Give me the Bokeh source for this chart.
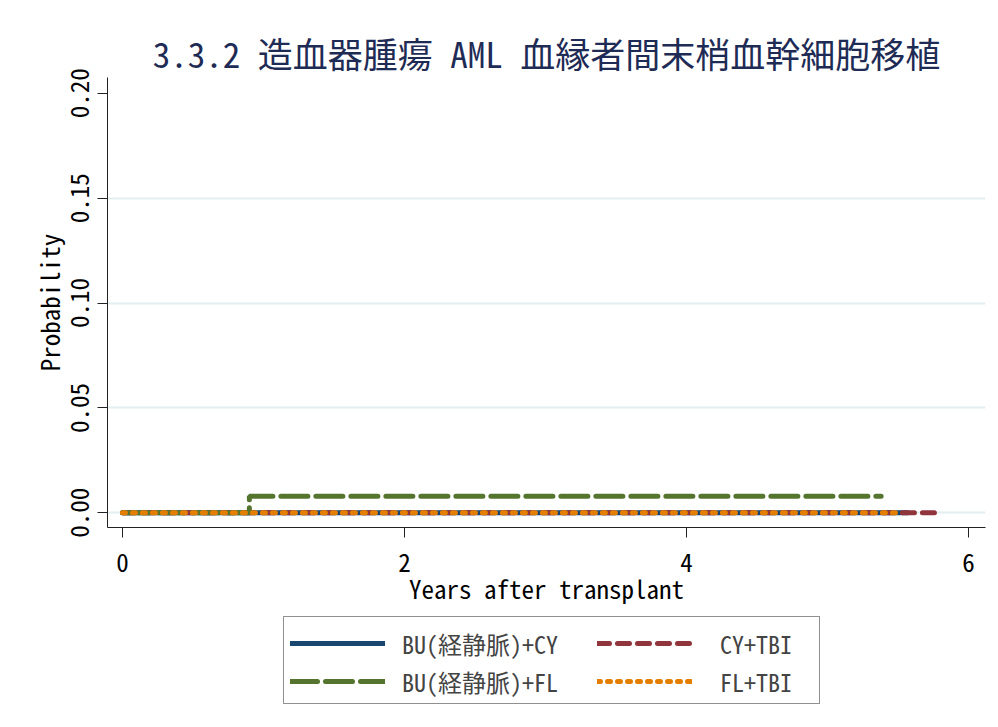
from bokeh.plotting import figure
from bokeh.layouts import column
from bokeh.models import Legend, LegendItem, FixedTicker, Range1d
from bokeh.embed import file_html
from bokeh.resources import INLINE

# Data (cumulative incidence)
blue_x = [0.0, 5.57]
blue_y = [0.0, 0.0]
red_x = [0.0, 5.77]
red_y = [0.0, 0.0]
green_x = [0.0, 0.90, 5.38]
green_y = [0.0, 0.0079, 0.0079]
orange_x = [0.0, 5.50]
orange_y = [0.0, 0.0]

labels = ["BU(経静脈)+CY", "BU(経静脈)+FL", "CY+TBI", "FL+TBI"]
x_ticks = [0, 2, 4, 6]
y_ticks = [0.0, 0.05, 0.10, 0.15, 0.20]
y_tick_labels = ["0.00", "0.05", "0.10", "0.15", "0.20"]

FONT = "Noto Sans Mono CJK JP, Noto Sans CJK JP"

styles = {
    "blue": dict(line_color="#1a476f", line_dash="solid"),
    "red": dict(line_color="#90353b", line_dash="12 8"),
    "green": dict(line_color="#55752f", line_dash="27 8"),
    "orange": dict(line_color="#e37e00", line_dash="3 7"),
}
LW = 5

p = figure(width=998, height=608, output_backend="svg", toolbar_location=None,
           x_range=Range1d(-0.106, 6.12), y_range=Range1d(-0.007, 0.2075),
           min_border_left=107, min_border_right=13, min_border_top=77, min_border_bottom=72)
p.outline_line_color = None
p.background_fill_color = "white"

p.title.text = "3.3.2 造血器腫瘍 AML 血縁者間末梢血幹細胞移植"
p.title.align = "center"
p.title.text_font = FONT
p.title.text_font_size = "35px"
p.title.text_font_style = "normal"
p.title.text_color = "#1e2b55"
p.title.standoff = 0

p.xaxis.ticker = FixedTicker(ticks=x_ticks)
p.yaxis.ticker = FixedTicker(ticks=y_ticks)
p.yaxis.major_label_overrides = {t: l for t, l in zip(y_ticks, y_tick_labels)}
p.yaxis.major_label_orientation = "vertical"
p.xaxis.axis_label = "Years after transplant"
p.yaxis.axis_label = "Probability"
for ax in (p.xaxis, p.yaxis):
    ax.axis_label_text_font = FONT
    ax.axis_label_text_font_size = "25px"
    ax.axis_label_text_font_style = "normal"
    ax.axis_label_text_color = "black"
    ax.major_label_text_font = FONT
    ax.major_label_text_font_size = "25px"
    ax.major_label_text_color = "black"
    ax.axis_line_color = "#222222"
    ax.major_tick_line_color = "#222222"
    ax.major_tick_out = 10
    ax.major_tick_in = 0
    ax.minor_tick_line_color = None
p.xaxis.major_label_standoff = 15
p.xaxis.axis_label_standoff = -5
p.yaxis.major_label_standoff = 8
p.yaxis.axis_label_standoff = 1

p.xgrid.grid_line_color = None
p.ygrid.ticker = FixedTicker(ticks=[0.0, 0.05, 0.10, 0.15])
p.ygrid.grid_line_color = "#e3eef0"
p.ygrid.grid_line_width = 2

r_blue = p.step(blue_x, blue_y, mode="after", line_width=LW, line_cap="round", **styles["blue"])
r_red = p.step(red_x, red_y, mode="after", line_width=LW, line_cap="round", **styles["red"])
r_green = p.step(green_x, green_y, mode="after", line_width=LW, line_cap="round", **styles["green"])
r_orange = p.step(orange_x, orange_y, mode="after", line_width=LW, line_cap="round", **styles["orange"])

# legend strip: separate figure below the chart; its ranges keep the key lines out of view
p2 = figure(width=998, height=119, output_backend="svg", toolbar_location=None,
            x_range=Range1d(0, 1), y_range=Range1d(10, 11),
            min_border_left=0, min_border_right=0, min_border_top=0, min_border_bottom=0)
p2.axis.visible = False
p2.grid.visible = False
p2.outline_line_color = None
k = {
    "blue": p2.line(blue_x, blue_y, line_width=LW, line_cap="round", **styles["blue"]),
    "green": p2.line(green_x, green_y, line_width=LW, line_cap="round", **styles["green"]),
    "red": p2.line(red_x, red_y, line_width=LW, line_cap="round", **styles["red"]),
    "orange": p2.line(orange_x, orange_y, line_width=LW, line_cap="round", **styles["orange"]),
}
ghost = p2.line(red_x, red_y, line_alpha=0)

# framed box of the legend (invisible keys, only sets the box size)
box = Legend(items=[LegendItem(label=labels[2], renderers=[ghost]),
                    LegendItem(label=labels[3], renderers=[ghost])],
             orientation="vertical", location=(176, 23))
box.label_text_font = FONT
box.label_text_font_size = "24px"
box.label_text_alpha = 0
box.glyph_width = 95
box.glyph_height = 43
box.label_height = 43
box.label_width = 423
box.label_standoff = 17
box.spacing = 0
box.padding = 0
box.margin = 0
box.border_line_color = "#222222"
box.border_line_width = 1
box.background_fill_color = "white"
box.background_fill_alpha = 1.0
p2.add_layout(box, "center")

def entry(label, key, loc, standoff):
    lg = Legend(items=[LegendItem(label=label, renderers=[k[key]])],
                orientation="vertical", location=loc)
    lg.label_text_font = FONT
    lg.label_text_font_size = "24px"
    lg.glyph_width = 95
    lg.glyph_height = 48
    lg.label_height = 48
    lg.label_standoff = standoff
    lg.spacing = 0
    lg.padding = 0
    lg.margin = 0
    lg.border_line_color = None
    lg.background_fill_alpha = 0.0
    p2.add_layout(lg, "center")

entry(labels[0], "blue", (183, 60), 17)
entry(labels[1], "green", (183, 22), 17)
entry(labels[2], "red", (490, 60), 28)
entry(labels[3], "orange", (490, 22), 28)

layout = column(p, p2, spacing=0)
open("out.html", "w").write(file_html(layout, INLINE))
